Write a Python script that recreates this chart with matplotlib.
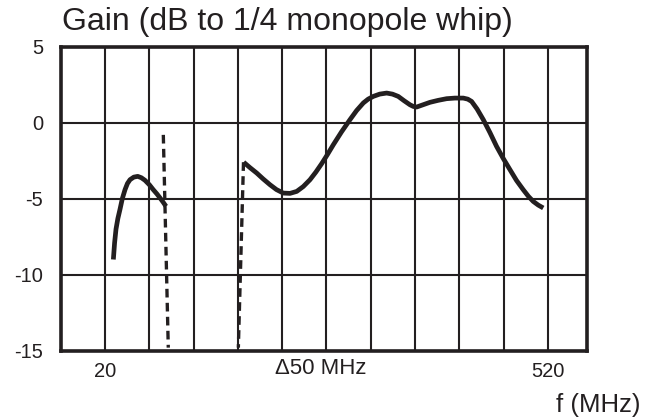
import matplotlib
matplotlib.use("Agg")
import matplotlib.pyplot as plt

plt.rcParams['font.family'] = ['Liberation Sans', 'DejaVu Sans']

INK = '#231f20'

# Data (frequency in MHz, gain in dB)
band1_f = [29.4, 30.8, 32.4, 34.5, 36.9, 39.5, 42.6, 45.3, 48.2, 52.5, 56.9, 61.0,
           65.1, 70.0, 74.5, 78.5, 82.1, 85.5, 88.8]
band1_g = [-9.0, -7.9, -7.0, -6.3, -5.7, -5.0, -4.4, -4.0, -3.75, -3.58, -3.53, -3.62,
           -3.79, -4.08, -4.41, -4.68, -4.95, -5.22, -5.5]

band2_f = [176.5, 183.5, 191.2, 198.5, 206.2, 213.5, 221.2, 228.8, 236.4, 243.8,
           251.4, 258.0, 264.5, 271.0, 277.7, 287.0, 296.5, 304.0, 311.6, 317.0,
           322.8, 330.0, 337.9, 344.5, 351.0, 357.5, 364.2, 368.0, 371.7, 379.0,
           386.8, 396.0, 405.6, 415.0, 424.4, 429.5, 433.8, 440.0, 447.0, 454.5,
           462.0, 469.5, 477.1, 484.5, 492.1, 498.0, 503.4, 509.0, 514.7]
band2_g = [-2.6, -2.95, -3.31, -3.7, -4.08, -4.4, -4.63, -4.65, -4.52, -4.2,
           -3.75, -3.25, -2.7, -2.1, -1.45, -0.6, 0.20, 0.8, 1.30, 1.55,
           1.73, 1.88, 1.95, 1.88, 1.73, 1.45, 1.18, 1.07, 1.03, 1.18,
           1.34, 1.47, 1.58, 1.62, 1.62, 1.55, 1.40, 0.9, 0.20, -0.65,
           -1.56, -2.35, -3.09, -3.8, -4.41, -4.85, -5.18, -5.42, -5.61]

edge1_f = [85.8, 91.4]
edge1_g = [-0.8, -14.8]
edge2_f = [176.3, 170.5]
edge2_g = [-2.6, -14.8]

grid_f = [20, 70, 120, 170, 220, 270, 320, 370, 420, 470, 520]
grid_g = [-15, -10, -5, 0, 5]
x_labels = ['20', '', '', '', '', '', '', '', '', '', '520']
y_labels = ['-15', '-10', '-5', '0', '5']

fig = plt.figure(figsize=(6.47, 4.17), dpi=100)
ax = fig.add_axes([61/647, 1-350.7/417, (586.5-61)/647, (350.7-46.7)/417])

ax.set_xlim(-29.7, 563.5)
ax.set_ylim(-15, 5)
ax.set_xticks(grid_f)
ax.set_xticklabels(x_labels)
ax.set_yticks(grid_g)
ax.set_yticklabels(y_labels)
ax.tick_params(length=0, labelsize=14.5, colors=INK)
ax.tick_params(axis='x', pad=8)
ax.tick_params(axis='y', pad=13)
ax.grid(True, color=INK, linewidth=1.5)
ax.set_axisbelow(True)
for s in ax.spines.values():
    s.set_linewidth(2.6)
    s.set_color(INK)
    s.set_zorder(5)

ax.plot(band1_f, band1_g, color=INK, lw=3.4, solid_capstyle='butt',
        solid_joinstyle='round', zorder=4)
ax.plot(band2_f, band2_g, color=INK, lw=3.4, solid_capstyle='butt',
        solid_joinstyle='round', zorder=4)
ax.plot(edge1_f, edge1_g, color=INK, lw=2.4, linestyle=(0, (2.6, 1.6)), zorder=4)
ax.plot(edge2_f, edge2_g, color=INK, lw=2.4, linestyle=(0, (2.6, 1.6)), zorder=4)

fig.text(62/647, 1-22/417, 'Gain (dB to 1/4 monopole whip)', fontsize=23,
         color=INK, ha='left', va='center')
fig.text(321/647, 1-369/417, '\u039450 MHz', fontsize=16, color=INK,
         ha='center', va='center')
fig.text(641/647, 1-405/417, 'f (MHz)', fontsize=18.5, color=INK,
         ha='right', va='center')

fig.savefig('out.png', dpi=100)
